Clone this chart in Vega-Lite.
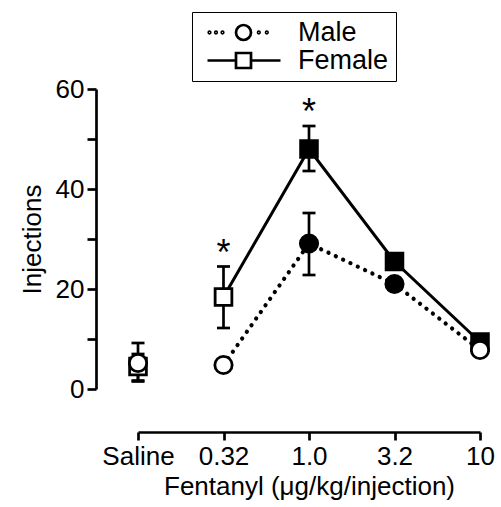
{
  "$schema": "https://vega.github.io/schema/vega-lite/v6.json",
  "autosize": {"type": "none"},
  "padding": {"left": 138, "top": 89, "right": 21, "bottom": 118},
  "width": 342,
  "height": 300,
  "config": {
    "font": "Liberation Sans",
    "view": {"stroke": null},
    "axis": {"grid": false, "domainColor": "black", "tickColor": "black", "labelColor": "black", "titleColor": "black", "domainWidth": 2.7, "tickWidth": 2.7, "labelFontSize": 26, "titleFontSize": 26, "titleFontWeight": "normal"}
  },
  "data": {
    "values": [
      {"sex": "Male", "dose": "Saline", "mean": 5.2, "lo": 1.5, "hi": 9.2, "sig": "no", "star": "no"},
      {"sex": "Male", "dose": "0.32", "mean": 4.8, "lo": 4.2, "hi": 5.4, "sig": "no", "star": "no"},
      {"sex": "Male", "dose": "1.0", "mean": 29.1, "lo": 22.8, "hi": 35.2, "sig": "yes", "star": "no"},
      {"sex": "Male", "dose": "3.2", "mean": 21.0, "lo": 19.8, "hi": 22.2, "sig": "yes", "star": "no"},
      {"sex": "Male", "dose": "10", "mean": 7.8, "lo": 7.0, "hi": 8.6, "sig": "no", "star": "no"},
      {"sex": "Female", "dose": "Saline", "mean": 4.5, "lo": 1.7, "hi": 7.0, "sig": "no", "star": "no"},
      {"sex": "Female", "dose": "0.32", "mean": 18.4, "lo": 12.2, "hi": 24.5, "sig": "no", "star": "yes"},
      {"sex": "Female", "dose": "1.0", "mean": 48.0, "lo": 43.6, "hi": 52.6, "sig": "yes", "star": "yes"},
      {"sex": "Female", "dose": "3.2", "mean": 25.5, "lo": 24.5, "hi": 26.5, "sig": "yes", "star": "no"},
      {"sex": "Female", "dose": "10", "mean": 9.4, "lo": 8.6, "hi": 10.2, "sig": "yes", "star": "no"}
    ]
  },
  "encoding": {
    "x": {
      "field": "dose", "type": "ordinal",
      "scale": {"type": "point", "domain": ["Saline", "0.32", "1.0", "3.2", "10"], "padding": 0},
      "axis": {"offset": 43, "labelAngle": 0, "tickSize": 8, "labelPadding": 3, "title": "Fentanyl (μg/kg/injection)", "titlePadding": 4}
    }
  },
  "layer": [
    {
      "mark": {"type": "rule", "color": "black", "strokeWidth": 2.7},
      "encoding": {
        "y": {"field": "lo", "type": "quantitative", "scale": {"domain": [0, 60], "nice": false},
          "axis": {"offset": 42, "values": [0, 10, 20, 30, 40, 50, 60], "labelExpr": "datum.value % 20 == 0 ? datum.label : ''", "tickSize": 9, "labelPadding": 3, "title": "Injections", "titlePadding": 10}},
        "y2": {"field": "hi"}
      }
    },
    {
      "mark": {"type": "tick", "color": "black", "thickness": 2.7, "size": 13, "opacity": 1},
      "encoding": {"y": {"field": "lo", "type": "quantitative"}}
    },
    {
      "mark": {"type": "tick", "color": "black", "thickness": 2.7, "size": 13, "opacity": 1},
      "encoding": {"y": {"field": "hi", "type": "quantitative"}}
    },
    {
      "transform": [{"filter": {"and": [{"field": "sex", "equal": "Female"}, {"not": {"field": "dose", "equal": "Saline"}}]}}],
      "mark": {"type": "line", "color": "black", "strokeWidth": 3},
      "encoding": {"y": {"field": "mean", "type": "quantitative"}, "order": {"value": null}}
    },
    {
      "transform": [{"filter": {"and": [{"field": "sex", "equal": "Male"}, {"not": {"field": "dose", "equal": "Saline"}}]}}],
      "mark": {"type": "line", "color": "black", "strokeWidth": 4.2, "strokeDash": [0.1, 8], "strokeCap": "round"},
      "encoding": {"y": {"field": "mean", "type": "quantitative"}, "order": {"value": null}}
    },
    {
      "transform": [{"filter": {"field": "sex", "equal": "Female"}}],
      "mark": {"type": "point", "shape": "square", "size": 280, "filled": true, "stroke": "black", "strokeWidth": 2.8, "opacity": 1},
      "encoding": {
        "y": {"field": "mean", "type": "quantitative"},
        "fill": {"field": "sig", "type": "nominal", "scale": {"domain": ["yes", "no"], "range": ["black", "white"]}, "legend": null}
      }
    },
    {
      "transform": [{"filter": {"field": "sex", "equal": "Male"}}],
      "mark": {"type": "point", "shape": "circle", "size": 300, "filled": true, "stroke": "black", "strokeWidth": 2.8, "opacity": 1},
      "encoding": {
        "y": {"field": "mean", "type": "quantitative"},
        "fill": {"field": "sig", "type": "nominal", "legend": null}
      }
    },
    {
      "transform": [{"filter": {"field": "star", "equal": "yes"}}],
      "mark": {"type": "text", "text": "*", "fontSize": 36, "color": "black", "baseline": "alphabetic", "dy": -2},
      "encoding": {"y": {"field": "hi", "type": "quantitative"}}
    },
    {
      "transform": [{"filter": {"field": "sex", "equal": "none"}}],
      "mark": {"type": "point", "color": "black", "strokeWidth": 2.5, "opacity": 1},
      "encoding": {
        "y": {"field": "mean", "type": "quantitative"},
        "shape": {
          "field": "sex", "type": "nominal",
          "scale": {"domain": ["Male", "Female"], "range": [
            "M-0.38,0A0.08,0.08,0,1,1,-0.22,0A0.08,0.08,0,1,1,-0.38,0ZM0.27,0A0.08,0.08,0,1,1,0.43,0A0.08,0.08,0,1,1,0.27,0ZM0.92,0A0.08,0.08,0,1,1,1.08,0A0.08,0.08,0,1,1,0.92,0ZM2.35,0A0.75,0.75,0,1,1,3.85,0A0.75,0.75,0,1,1,2.35,0ZM4.55,0A0.08,0.08,0,1,1,4.71,0A0.08,0.08,0,1,1,4.55,0ZM5.35,0A0.08,0.08,0,1,1,5.51,0A0.08,0.08,0,1,1,5.35,0Z",
            "M-0.5,0L2.35,0M3.85,0L6.8,0M2.35,-0.75L3.85,-0.75L3.85,0.75L2.35,0.75Z"
          ]},
          "legend": {
            "title": null, "orient": "none", "legendX": 54, "legendY": -77,
            "symbolSize": 400, "labelOffset": 72, "labelFontSize": 27, "labelColor": "black",
            "labelExpr": "datum.label + '  '",
            "padding": 7, "rowPadding": 0, "strokeColor": "black",
            "symbolStrokeColor": "black", "symbolFillColor": "white", "symbolStrokeWidth": 2.7,
            "encode": {
              "symbols": {"update": {"fill": {"value": "white"}, "stroke": {"value": "black"}, "strokeWidth": {"value": 2.7}, "opacity": {"value": 1}}},
              "legend": {"update": {"strokeWidth": {"value": 2.7}}}
            }
          }
        }
      }
    }
  ]
}
